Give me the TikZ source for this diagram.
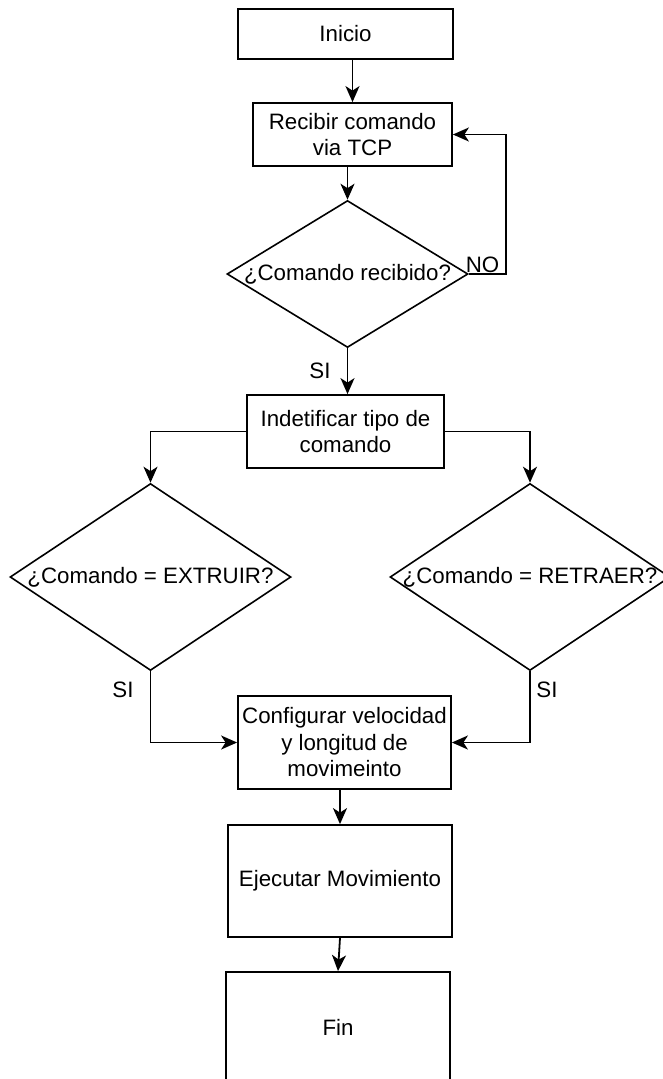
\documentclass[tikz,border=0pt]{standalone}
\usepackage{fontspec}
\setmainfont{Liberation Sans}
\usetikzlibrary{shapes.geometric,arrows.meta}
\begin{document}
\begin{tikzpicture}[x=1pt,y=-1pt,
  lbl/.style={font=\fontsize{22.3}{26.5}\selectfont, align=center, inner sep=0pt},
  procbox/.style={draw, line width=1.8pt, inner sep=0pt, lbl},
  decision/.style={draw, diamond, line width=1.6pt, inner sep=0pt},
  flow/.style={line width=1.8pt, -{Stealth[length=16pt,width=14pt,inset=4.5pt]}}
]
\useasboundingbox (0,0) rectangle (663,1079);
\clip (0,0) rectangle (663,1079);

% process boxes
\node[procbox, minimum width=215pt, minimum height=50pt] (inicio) at (345.5,34) {Inicio};
\node[procbox, minimum width=199pt, minimum height=63pt] (recibir) at (352.5,134.5) {Recibir comando\\via TCP};
\node[procbox, minimum width=197pt, minimum height=73pt] (indet) at (345.5,431.5) {Indetificar tipo de\\comando};
\node[procbox, minimum width=213pt, minimum height=93pt] (conf) at (344.5,742.5) {Configurar velocidad\\y longitud de\\movimeinto};
\node[procbox, minimum width=224pt, minimum height=112pt] (ejec) at (340,881) {Ejecutar Movimiento};
\node[procbox, minimum width=224pt, minimum height=110pt] (fin) at (338,1027) {Fin};

% decisions
\node[decision, minimum width=241pt, minimum height=147pt] (d1) at (347.5,274) {};
\node[lbl] (d1t) at (d1.center) {¿Comando recibido?};
\node[decision, minimum width=281pt, minimum height=187pt] (d2) at (150.5,577) {};
\node[lbl] (d2t) at (d2.center) {¿Comando = EXTRUIR?};
\node[decision, minimum width=280pt, minimum height=187pt] (d3) at (530,577) {};
\node[lbl] (d3t) at (d3.center) {¿Comando = RETRAER?};

% connector labels
\node[lbl] (no) at (482.5,264.5) {NO};
\node[lbl] (si1) at (320,370.5) {SI};
\node[lbl] (si2) at (123,690) {SI};
\node[lbl] (si3) at (547,690) {SI};

\coordinate (loopc) at (506,274);

% connectors
\draw[flow] (recibir.north |- inicio.south) -- (recibir.north);
\draw[flow] (d1.north |- recibir.south) -- (d1.north);
\draw[flow] (d1.east) -- (loopc) |- (recibir.east);
\draw[flow] (d1.south) -- (d1.south |- indet.north);
\draw[flow] (indet.west) -| (d2.north);
\draw[flow] (indet.east) -| (d3.north);
\draw[flow] (d2.south) |- (conf.west);
\draw[flow] (d3.south) |- (conf.east);
\draw[flow] (conf.south -| ejec) -- (ejec.north);
\draw[flow] (ejec.south) -- (fin.north);
\end{tikzpicture}
\end{document}
